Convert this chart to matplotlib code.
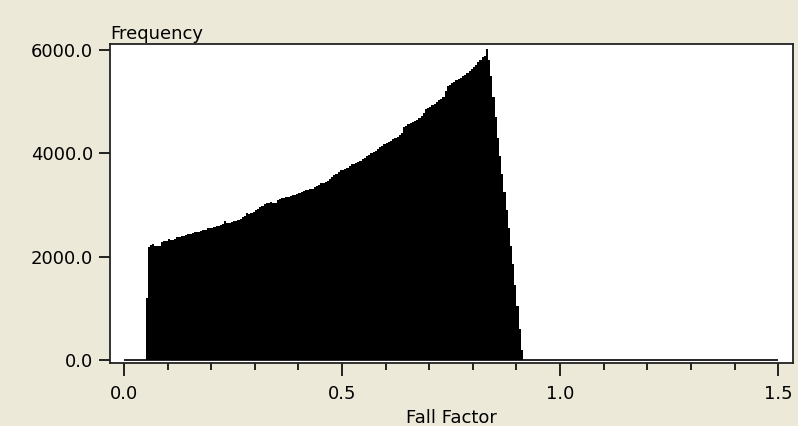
import numpy as np
import matplotlib
matplotlib.use("Agg")
import matplotlib.pyplot as plt
from matplotlib.ticker import MultipleLocator, FormatStrFormatter

# histogram of fall factor, 0.005 wide bins starting at 0.05
bin_start = 0.05
bin_width = 0.005
counts = [
    1200, 2180, 2230, 2240, 2200, 2210, 2210, 2290, 2300, 2300,
    2350, 2320, 2330, 2340, 2390, 2390, 2400, 2410, 2420, 2430,
    2440, 2450, 2470, 2470, 2480, 2500, 2510, 2520, 2550, 2550,
    2560, 2570, 2590, 2600, 2620, 2640, 2700, 2660, 2660, 2670,
    2700, 2700, 2720, 2730, 2760, 2780, 2840, 2830, 2850, 2860,
    2900, 2920, 2960, 2980, 3020, 3030, 3040, 3050, 3030, 3040,
    3090, 3110, 3130, 3140, 3150, 3160, 3180, 3190, 3200, 3220,
    3240, 3250, 3270, 3290, 3300, 3310, 3320, 3340, 3360, 3390,
    3420, 3430, 3450, 3470, 3500, 3540, 3580, 3610, 3640, 3670,
    3680, 3700, 3720, 3750, 3790, 3800, 3820, 3840, 3860, 3890,
    3920, 3940, 3960, 4000, 4030, 4050, 4080, 4120, 4150, 4180,
    4210, 4220, 4240, 4270, 4300, 4320, 4360, 4400, 4520, 4540,
    4560, 4580, 4600, 4620, 4640, 4680, 4720, 4790, 4860, 4880,
    4900, 4930, 4960, 5000, 5030, 5060, 5100, 5200, 5300, 5330,
    5360, 5390, 5420, 5440, 5460, 5490, 5520, 5560, 5600, 5640,
    5680, 5720, 5760, 5800, 5860, 5880, 6030, 5800, 5500, 5100,
    4700, 4300, 3950, 3600, 3250, 2900, 2550, 2200, 1850, 1450,
    1050, 600, 200,
]
x_ticks = [0.0, 0.5, 1.0, 1.5]
y_ticks = [0.0, 2000.0, 4000.0, 6000.0]
x_label = "Fall Factor"
y_label = "Frequency"

bg = "#ECE9D8"
W, H = 798, 426
fig = plt.figure(figsize=(W / 100, H / 100), dpi=100, facecolor=bg)
ax = fig.add_axes([110 / W, 1 - 363 / H, (793 - 110) / W, (363 - 44) / H])
ax.set_facecolor("white")

edges = bin_start + bin_width * np.arange(len(counts) + 1)
ax.stairs(counts, edges, fill=True, color="black", linewidth=0)
# flat baseline across the whole range
ax.hlines(0, x_ticks[0], x_ticks[-1], color="black", linewidth=1.2)

ax.set_xlim(-0.032, 1.534)
ax.set_ylim(-58, 6118)
ax.set_xticks(x_ticks)
ax.set_yticks(y_ticks)
ax.xaxis.set_minor_locator(MultipleLocator(0.1))
ax.xaxis.set_major_formatter(FormatStrFormatter("%.1f"))
ax.yaxis.set_major_formatter(FormatStrFormatter("%.1f"))

fs = 13
ax.tick_params(axis="x", which="major", length=9, width=1.2, pad=7,
               labelsize=fs, direction="out")
ax.tick_params(axis="x", which="minor", length=5, width=1.2, direction="out")
ax.tick_params(axis="y", which="major", length=8, width=1.2, pad=4,
               labelsize=fs, direction="out")
for s in ax.spines.values():
    s.set_linewidth(1.3)
    s.set_color("#222222")

fig.text(110 / W, 1 - 39 / H, y_label, fontsize=fs, ha="left", va="baseline")
fig.text(451 / W, 1 - 409 / H, x_label, fontsize=fs, ha="center", va="top")

fig.savefig("out.png", dpi=100, facecolor=bg)
